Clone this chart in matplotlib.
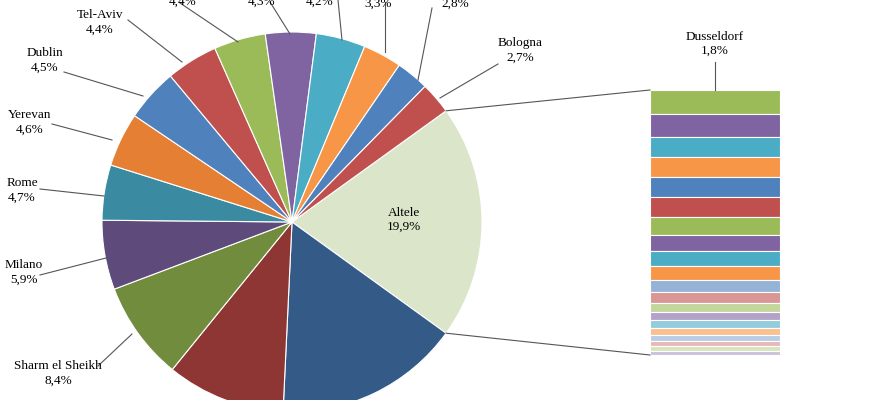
import numpy as np
import matplotlib.pyplot as plt

plt.rcParams['font.family'] = ['Liberation Serif', 'DejaVu Serif']

# pie slices, clockwise starting with "Altele"
names = ['Altele', '', '', 'Sharm el Sheikh', 'Milano', 'Rome', 'Yerevan', 'Dublin',
         'Tel-Aviv', '', '', '', '', 'Frankfurt', 'Bologna']
values = [19.9, 15.8, 10.1, 8.4, 5.9, 4.7, 4.6, 4.5, 4.4, 4.4, 4.3, 4.2, 3.3, 2.8, 2.7]
colors = ['#dbe5c9', '#345a87', '#8e3633', '#728c3e', '#5f4a7c', '#3a8ba1', '#e47f34',
          '#4f81bd', '#c0504d', '#9bbb59', '#8064a2', '#4bacc6', '#f79646', '#4f81bd', '#c0504d']

# breakdown of "Altele" in the bar (top to bottom)
bar_values = [1.8, 1.7, 1.5, 1.5, 1.5, 1.5, 1.4, 1.2, 1.1, 1.1, 0.9, 0.8, 0.7, 0.6, 0.6,
              0.5, 0.45, 0.4, 0.35, 0.3]
bar_colors = ['#9bbb59', '#8064a2', '#4bacc6', '#f79646', '#4f81bd', '#c0504d', '#9bbb59',
              '#8064a2', '#4bacc6', '#f79646', '#95b3d7', '#d99694', '#c3d69b', '#b3a2c7',
              '#93cddd', '#fac090', '#b9cde5', '#e6b9b8', '#d7e4bd', '#ccc1da']

# label text anchors (pixel coords) and leader line ends
lab_pos = {'Bologna': (520, 50), 'Frankfurt': (455, -4), '3,3': (378, -4), '4,2': (320, -6),
           '4,3': (262, -6), '4,4b': (183, -6), 'Tel-Aviv': (100, 22), 'Dublin': (45, 60),
           'Yerevan': (30, 122), 'Rome': (22, 190), 'Milano': (24, 272), 'Sharm el Sheikh': (58, 373)}
lines = {'Bologna': [(498, 64), (440, 98)], 'Frankfurt': [(432, 8), (418, 80)],
         '3,3': [(385, 2), (385, 52)], '4,2': [(338, 0), (342, 40)], '4,3': [(270, 2), (290, 34)],
         '4,4b': [(180, 3), (238, 42)], 'Tel-Aviv': [(128, 20), (182, 62)],
         'Dublin': [(64, 72), (143, 96)], 'Yerevan': [(52, 124), (112, 140)],
         'Rome': [(40, 189), (104, 196)], 'Milano': [(40, 275), (106, 258)],
         'Sharm el Sheikh': [(98, 366), (132, 334)]}
keys = ['Sharm el Sheikh', 'Milano', 'Rome', 'Yerevan', 'Dublin', 'Tel-Aviv', '4,4b', '4,3', '4,2',
        '3,3', 'Frankfurt', 'Bologna']

fig = plt.figure(figsize=(8.7, 4), dpi=100)
ax = fig.add_axes([0, 0, 1, 1])
ax.set_xlim(0, 870)
ax.set_ylim(400, 0)
ax.set_aspect('equal')
ax.axis('off')

cx, cy, r = 292, 222, 190
start = values[0] / 100 * 360 / 2
wedges, _ = ax.pie(values, colors=colors, center=(cx, cy), radius=r, startangle=-start,
                   counterclock=True, wedgeprops=dict(edgecolor='white', linewidth=0.8))
ax.set_xlim(0, 870)
ax.set_ylim(400, 0)
ax.axis('off')

fmt = lambda v: ('%.1f%%' % v).replace('.', ',')
ax.text(404, 220, 'Altele\n' + fmt(values[0]), ha='center', va='center', fontsize=9.5)
for k, i in zip(keys, range(3, 15)):
    x, y = lab_pos[k]
    txt = (names[i] + '\n' if names[i] else 'X\n') + fmt(values[i])
    t = ax.text(x, y, txt, ha='center', va='center', fontsize=9.5, linespacing=1.3)
    if not names[i]:
        t.set_text('\n' + fmt(values[i]))
    (x0, y0), (x1, y1) = lines[k]
    ax.plot([x0, x1], [y0, y1], color='#555555', lw=0.8)

# bar of pie
bx, bw, btop, bbot = 650, 130, 90, 355
scale = (bbot - btop) / sum(bar_values)
y = btop
for v, c in zip(bar_values, bar_colors):
    ax.add_patch(plt.Rectangle((bx, y), bw, v * scale, facecolor=c, edgecolor='white', lw=0.8))
    y += v * scale
ax.text(715, 44, 'Dusseldorf\n' + fmt(bar_values[0]), ha='center', va='center', fontsize=9.5)
ax.plot([715, 715], [62, 90], color='#555555', lw=0.8)

# connectors
a1 = np.deg2rad(start)
ax.plot([cx + r * np.cos(a1), bx], [cy - r * np.sin(a1), btop], color='#555555', lw=0.8)
ax.plot([cx + r * np.cos(a1), bx], [cy + r * np.sin(a1), bbot], color='#555555', lw=0.8)

fig.savefig('out.png', dpi=100)
